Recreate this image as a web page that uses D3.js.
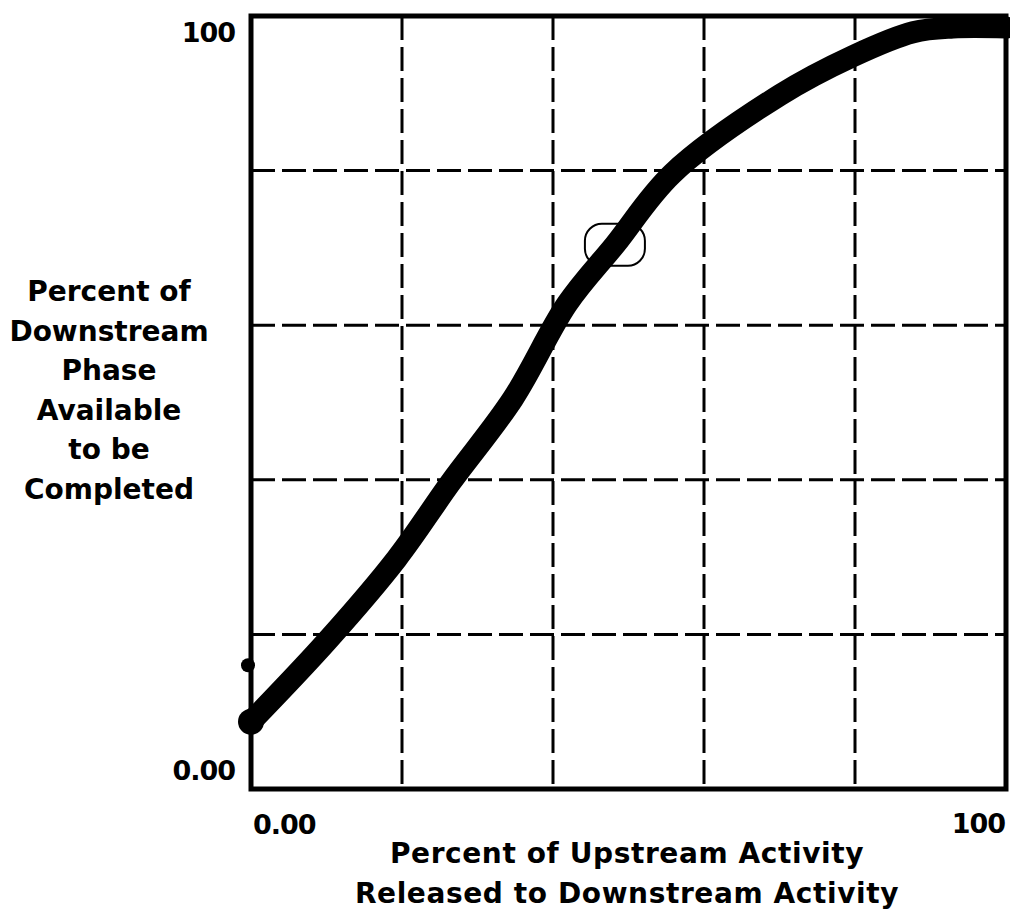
<!DOCTYPE html>
<html>
<head>
<meta charset="utf-8">
<script src="https://d3js.org/d3.v7.min.js"></script>
<style>
  body { margin: 0; background: #fff; }
  text { font-family: "DejaVu Sans", sans-serif; font-weight: bold; fill: #000; }
</style>
</head>
<body>
<svg id="chart" width="1010" height="915"></svg>
<script>
// released % upstream (x) vs available % downstream (y)
var releasedPct  = [0, 10.2, 19.3, 26.4, 34.7, 41.9, 48.2, 55.8, 70.1, 79.7, 87.7, 93, 100];
var availablePct = [8.7, 19.3, 29.8, 39.6, 50.5, 62.8, 70.4, 79.6, 89.8, 94.8, 97.9, 98.5, 98.5];

var gridTicks = [20, 40, 60, 80];
var xTickLabels = ["0.00", "100"];
var yTickLabels = ["0.00", "100"];
var yTitleLines = ["Percent of", "Downstream", "Phase", "Available", "to be", "Completed"];
var xTitleLines = ["Percent of Upstream Activity", "Released to Downstream Activity"];

var initialMark = [0, 16];      // the small dot on the y axis
var selectedMark = [48.2, 70.4]; // the ringed point on the curve

var svg = d3.select("#chart"),
    margin = {top: 16, right: 4, bottom: 126, left: 251},
    width = +svg.attr("width") - margin.left - margin.right,
    height = +svg.attr("height") - margin.top - margin.bottom,
    g = svg.append("g").attr("transform", "translate(" + margin.left + "," + margin.top + ")");

var x = d3.scaleLinear().domain([0, 100]).range([0, width]);
var y = d3.scaleLinear().domain([0, 100]).range([height, 0]);

// dashed grid
g.selectAll(".vgrid")
    .data(gridTicks)
    .enter().append("line")
    .attr("class", "vgrid")
    .attr("x1", function(d) { return x(d); })
    .attr("x2", function(d) { return x(d); })
    .attr("y1", 0)
    .attr("y2", height)
    .attr("stroke", "#000")
    .attr("stroke-width", 3)
    .attr("stroke-dasharray", "24,7");

g.selectAll(".hgrid")
    .data(gridTicks)
    .enter().append("line")
    .attr("class", "hgrid")
    .attr("x1", 0)
    .attr("x2", width)
    .attr("y1", function(d) { return y(d); })
    .attr("y2", function(d) { return y(d); })
    .attr("stroke", "#000")
    .attr("stroke-width", 3)
    .attr("stroke-dasharray", "24,7");

// frame
g.append("rect")
    .attr("x", 0)
    .attr("y", 0)
    .attr("width", width)
    .attr("height", height)
    .attr("fill", "none")
    .attr("stroke", "#000")
    .attr("stroke-width", 5);

var pts = releasedPct.map(function(d, i) { return [d, availablePct[i]]; });

var line = d3.line()
    .x(function(d) { return x(d[0]); })
    .y(function(d) { return y(d[1]); })
    .curve(d3.curveCatmullRom.alpha(0.5));

g.append("path")
    .datum(pts)
    .attr("d", line)
    .attr("fill", "none")
    .attr("stroke", "#000")
    .attr("stroke-width", 22)
    .attr("stroke-linecap", "round")
    .attr("stroke-linejoin", "round");

g.append("circle")
    .attr("cx", x(pts[0][0]))
    .attr("cy", y(pts[0][1]))
    .attr("r", 13)
    .attr("fill", "#000");

g.append("circle")
    .attr("cx", x(initialMark[0]) - 3)
    .attr("cy", y(initialMark[1]))
    .attr("r", 7)
    .attr("fill", "#000");

g.append("rect")
    .attr("x", x(selectedMark[0]) - 30)
    .attr("y", y(selectedMark[1]) - 21)
    .attr("width", 60)
    .attr("height", 42)
    .attr("rx", 17)
    .attr("fill", "none")
    .attr("stroke", "#000")
    .attr("stroke-width", 2);

// tick labels
svg.append("text")
    .attr("x", margin.left - 16)
    .attr("y", margin.top + y(100) + 26)
    .attr("text-anchor", "end")
    .style("font-size", "27px")
    .style("letter-spacing", "-1px")
    .text(yTickLabels[1]);

svg.append("text")
    .attr("x", margin.left - 16)
    .attr("y", margin.top + y(0) - 9)
    .attr("text-anchor", "end")
    .style("font-size", "27px")
    .style("letter-spacing", "-1px")
    .text(yTickLabels[0]);

svg.append("text")
    .attr("x", margin.left + x(0) + 2)
    .attr("y", margin.top + height + 45)
    .attr("text-anchor", "start")
    .style("font-size", "27px")
    .style("letter-spacing", "-1px")
    .text(xTickLabels[0]);

svg.append("text")
    .attr("x", margin.left + x(100) - 1)
    .attr("y", margin.top + height + 44)
    .attr("text-anchor", "end")
    .style("font-size", "27px")
    .style("letter-spacing", "-1px")
    .text(xTickLabels[1]);

// axis titles
svg.append("g")
    .selectAll("text")
    .data(yTitleLines)
    .enter().append("text")
    .attr("x", 109)
    .attr("y", function(d, i) { return 301 + i * 39.6; })
    .attr("text-anchor", "middle")
    .style("font-size", "28px")
    .text(function(d) { return d; });

svg.append("g")
    .selectAll("text")
    .data(xTitleLines)
    .enter().append("text")
    .attr("x", 627)
    .attr("y", function(d, i) { return 863 + i * 40; })
    .attr("text-anchor", "middle")
    .style("font-size", "28px")
    .style("letter-spacing", "0.6px")
    .text(function(d) { return d; });
</script>
</body>
</html>
